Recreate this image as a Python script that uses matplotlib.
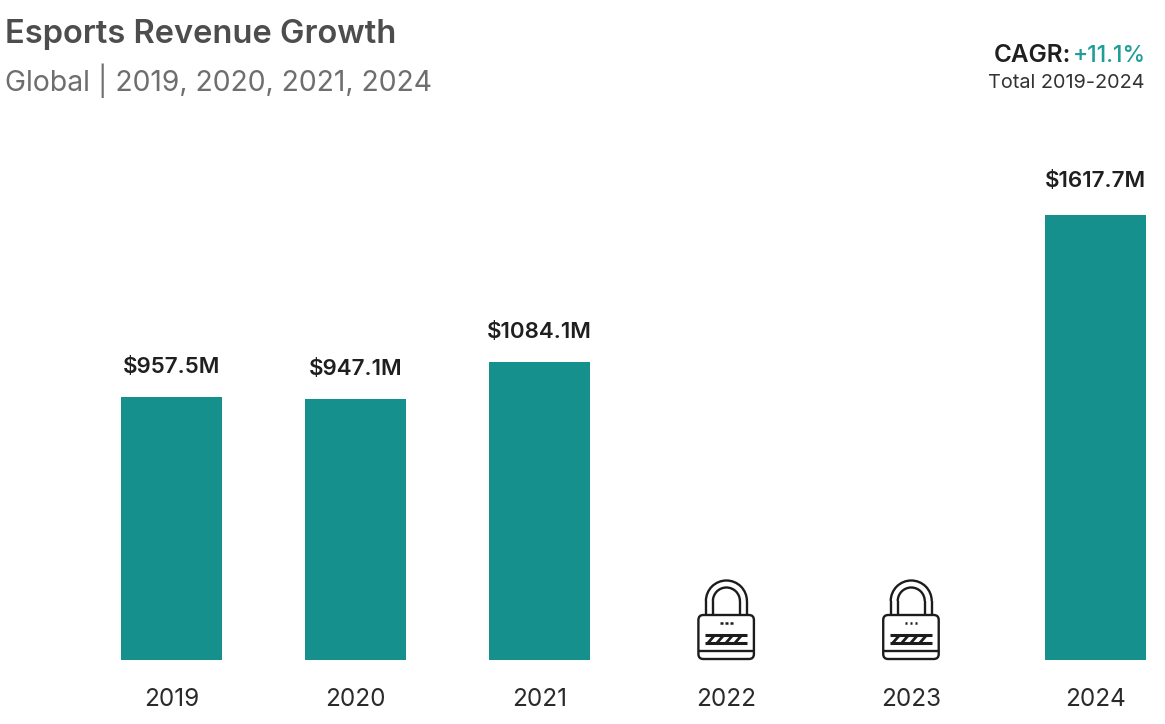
import matplotlib
matplotlib.use('Agg')
import matplotlib.pyplot as plt
from matplotlib.patches import FancyBboxPatch, Arc
from matplotlib.lines import Line2D
from matplotlib.transforms import Affine2D

plt.rcParams['font.family'] = ['Inter', 'DejaVu Sans']

years = ['2019', '2020', '2021', '2022', '2023', '2024']
revenue = [957.5, 947.1, 1084.1, None, None, 1617.7]
bar_labels = ['$957.5M', '$947.1M', '$1084.1M', '', '', '$1617.7M']
# the source slots are not quite evenly spaced
slots = [0, 0.9957, 1.9913, 3, 4, 5]
label_gap = [30, 30, 30, 0, 0, 34]

W, H = 1165, 724
TEAL = '#15908d'
DARK = '#1f1f1f'
INK = '#1c1c1c'


def fx(px):
    return px / W


def fy(py):
    return 1 - py / H


fig = plt.figure(figsize=(W / 100, H / 100), dpi=100, facecolor='white')
ax = fig.add_axes([fx(121), fy(660), fx(1025), (660 - 215) / H])
ax.set_xlim(-0.273, 5.273)
ax.set_ylim(0, 1617.7)
ax.axis('off')

for i, v in enumerate(revenue):
    if v is None:
        continue
    ax.bar(slots[i], v, width=0.5465, color=TEAL, clip_on=False)
    ax.annotate(bar_labels[i].replace('$', r'\$'), (slots[i], v), xytext=(0, label_gap[i]), textcoords='offset pixels',
                ha='center', va='center', fontsize=16.1, fontweight='semibold', color=DARK,
                annotation_clip=False)


def draw_lock(i):
    # icon is drawn in pixels around the foot of the category
    cx, cy = ax.transData.transform((slots[i], 0))
    tr = Affine2D().translate(cx, cy)
    lw = 1.7
    kw = dict(transform=tr, color=INK, lw=lw, solid_capstyle='butt')
    fig.add_artist(FancyBboxPatch((-27.5, 1), 55.5, 44, boxstyle='round,pad=0,rounding_size=5',
                                  fc='white', ec=INK, lw=lw, transform=tr))
    for r, top in [(20.5, 59), (13.5, 59)]:
        fig.add_artist(Arc((0.5, top), 2 * r, 2 * r, theta1=0, theta2=180, ec=INK, lw=lw, transform=tr))
        fig.add_artist(Line2D([0.5 - r, 0.5 - r], [45, top], **kw))
        fig.add_artist(Line2D([0.5 + r, 0.5 + r], [45, top], **kw))
    fig.add_artist(Line2D([-27, 28], [9, 9], **kw))
    fig.add_artist(Line2D([-21, 21], [25, 25], transform=tr, color=INK, lw=2.2, solid_capstyle='butt'))
    fig.add_artist(Line2D([-21, 21], [17, 17], transform=tr, color=INK, lw=2.2, solid_capstyle='butt'))
    for x0 in (-18, -9, 0, 9):
        fig.add_artist(Line2D([x0, x0 + 7], [17, 25], transform=tr, color=INK, lw=2, solid_capstyle='butt'))
    for x0 in (-4.5, 0.5, 5.5):
        fig.add_artist(Line2D([x0 - 1.2, x0 + 1.2], [37.5, 37.5], transform=tr, color=INK, lw=1.8,
                              solid_capstyle='butt'))


draw_lock(3)
draw_lock(4)

for i, y in enumerate(years):
    cx = ax.transData.transform((slots[i], 0))[0]
    fig.text(cx / W, fy(700), y, ha='center', va='center', fontsize=17.5, color='#2a2a2a')

fig.text(fx(5), fy(34), 'Esports Revenue Growth', fontsize=23.5, fontweight='semibold', color='#4d4d4d', va='center')
fig.text(fx(5), fy(81), 'Global | 2019, 2020, 2021, 2024', fontsize=20.4, color='#6e6e6e', va='center')
fig.text(fx(1071), fy(56), 'CAGR:', fontsize=17.5, fontweight='semibold', color=DARK, ha='right', va='center')
fig.text(fx(1146), fy(56), '+11.1%', fontsize=16.4, fontweight='medium', color='#1f9e98', ha='right', va='center')
fig.text(fx(1145), fy(83), 'Total 2019-2024', fontsize=14.3, color='#333333', ha='right', va='center')

fig.savefig('out.png', dpi=100)
